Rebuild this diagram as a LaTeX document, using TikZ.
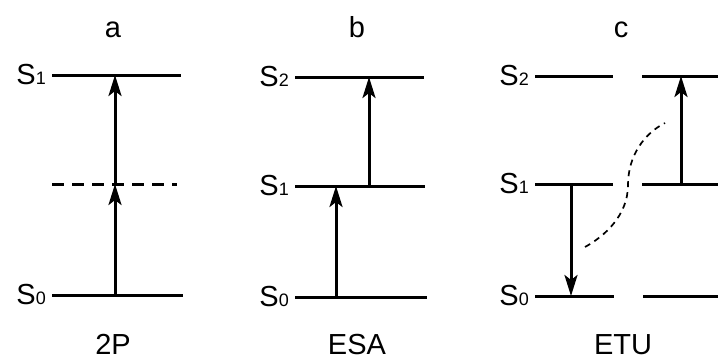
\documentclass[tikz,border=0pt]{standalone}
\usepackage{fontspec}
\setmainfont{Liberation Sans}
\usetikzlibrary{arrows.meta, positioning}
\newcommand{\lvS}[1]{S{\fontsize{18}{18}\selectfont #1}}

\begin{document}
\begin{tikzpicture}[
  x=1pt, y=-1pt,
  font=\fontsize{29}{32}\selectfont,
  level/.style={line width=3pt},
  virtual/.style={line width=3pt, dash pattern=on 12pt off 8pt},
  pump/.style={-{Stealth[length=21pt,width=13pt,inset=5pt]}, line width=3pt},
  transfer/.style={line width=1.7pt, dash pattern=on 6pt off 5pt},
  lvl/.style={inner sep=0pt},
  ttl/.style={anchor=base, inner sep=0pt}
]
\useasboundingbox (0,0) rectangle (718,362);
% panel a: two-photon absorption
\coordinate (aS1l) at (52,75);  \coordinate (aS1r) at (181,75);
\coordinate (aVl)  at (52,184); \coordinate (aVr)  at (177,184);
\coordinate (aS0l) at (52,295); \coordinate (aS0r) at (183,295);
\coordinate (aX)   at (115,0);
\draw[level]   (aS1l) -- (aS1r);
\draw[virtual] (aVl)  -- (aVr);
\draw[level]   (aS0l) -- (aS0r);
\node[lvl, left=6pt of aS1l] (aL1) {\lvS{1}};
\node[lvl, left=6pt of aS0l] (aL0) {\lvS{0}};
\draw[pump] (aX |- aS0l) -- (aX |- aVl);
\draw[pump] (aX |- aVl)  -- (aX |- aS1l);
\node[ttl] (ta) at (113,37)  {a};
\node[ttl] (ba) at (113,354) {2P};
% panel b: excited state absorption
\coordinate (bS2l) at (295,77);  \coordinate (bS2r) at (424,77);
\coordinate (bS1l) at (295,186); \coordinate (bS1r) at (425,186);
\coordinate (bS0l) at (295,297); \coordinate (bS0r) at (427,297);
\coordinate (bX1)  at (336,0);
\coordinate (bX2)  at (369,0);
\draw[level] (bS2l) -- (bS2r);
\draw[level] (bS1l) -- (bS1r);
\draw[level] (bS0l) -- (bS0r);
\node[lvl, left=6pt of bS2l] (bL2) {\lvS{2}};
\node[lvl, left=6pt of bS1l] (bL1) {\lvS{1}};
\node[lvl, left=6pt of bS0l] (bL0) {\lvS{0}};
\draw[pump] (bX1 |- bS0l) -- (bX1 |- bS1l);
\draw[pump] (bX2 |- bS1l) -- (bX2 |- bS2l);
\node[ttl] (tb) at (357,37)  {b};
\node[ttl] (bb) at (357,354) {ESA};
% panel c: energy transfer upconversion
\coordinate (cS2l) at (535,76);  \coordinate (cS2m) at (613,76);
\coordinate (cS2n) at (642,76);  \coordinate (cS2r) at (718,76);
\coordinate (cS1l) at (535,184); \coordinate (cS1m) at (613,184);
\coordinate (cS1n) at (642,184); \coordinate (cS1r) at (718,184);
\coordinate (cS0l) at (535,296); \coordinate (cS0m) at (614,296);
\coordinate (cS0n) at (643,296); \coordinate (cS0r) at (718,296);
\coordinate (cX1)  at (571,0);
\coordinate (cX2)  at (681,0);
\draw[level] (cS2l) -- (cS2m);  \draw[level] (cS2n) -- (cS2r);
\draw[level] (cS1l) -- (cS1m);  \draw[level] (cS1n) -- (cS1r);
\draw[level] (cS0l) -- (cS0m);  \draw[level] (cS0n) -- (cS0r);
\node[lvl, left=6pt of cS2l] (cL2) {\lvS{2}};
\node[lvl, left=6pt of cS1l] (cL1) {\lvS{1}};
\node[lvl, left=6pt of cS0l] (cL0) {\lvS{0}};
\draw[pump] (cX1 |- cS1l) -- (cX1 |- cS0l);
\draw[pump] (cX2 |- cS1n) -- (cX2 |- cS2n);
\coordinate (cTa) at (585,247);
\coordinate (cTm) at (628,185);
\coordinate (cTb) at (665,123);
\draw[transfer] (cTa) .. controls (605,236) and (628,215) .. (cTm)
                      .. controls (628,155) and (645,133) .. (cTb);
\node[ttl] (tc) at (621,37)  {c};
\node[ttl] (bc) at (623,354) {ETU};
\end{tikzpicture}
\end{document}
